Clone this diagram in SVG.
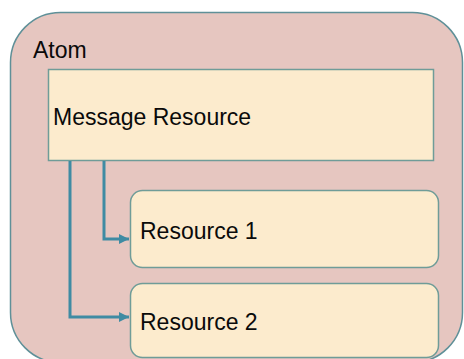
<svg xmlns="http://www.w3.org/2000/svg" width="464" height="359" viewBox="0 0 464 359">
  <style>
    .container { fill: #e6c6c0; stroke: #5f9098; stroke-width: 1.5; }
    .box { fill: #fcebcd; stroke: #6f9c98; stroke-width: 1.5; }
    .label { font-family: "Liberation Sans", Arial, sans-serif; font-size: 23px; fill: #0a0a0a; }
    .link { fill: none; stroke: #3f8ba3; stroke-width: 3; }
  </style>
  <defs>
    <marker id="arrow" markerUnits="userSpaceOnUse" markerWidth="12" markerHeight="12" refX="10" refY="6" orient="auto">
      <path d="M0,1 L10,6 L0,11 Z" fill="#3f8ba3"/>
    </marker>
  </defs>

  <rect id="white-bg" x="0" y="0" width="464" height="359" fill="#ffffff"/>

  <g id="atom">
    <rect class="container" x="10.5" y="12.5" width="452" height="350" rx="50" ry="50"/>
    <text class="label" x="33" y="58">Atom</text>
  </g>

  <g id="message-resource">
    <rect class="box" x="48.5" y="69.5" width="385" height="91"/>
    <text class="label" x="53" y="125">Message Resource</text>
  </g>

  <g id="resource-1">
    <rect class="box" x="130.5" y="190.5" width="308" height="77" rx="12" ry="12"/>
    <text class="label" x="140" y="239">Resource 1</text>
  </g>

  <g id="resource-2">
    <rect class="box" x="130.5" y="283.5" width="308" height="74" rx="12" ry="12"/>
    <text class="label" x="140" y="330">Resource 2</text>
  </g>

  <g id="connectors">
    <path class="link" d="M104,161 V239 H129" marker-end="url(#arrow)"/>
    <path class="link" d="M70,161 V317 H129" marker-end="url(#arrow)"/>
  </g>
</svg>
